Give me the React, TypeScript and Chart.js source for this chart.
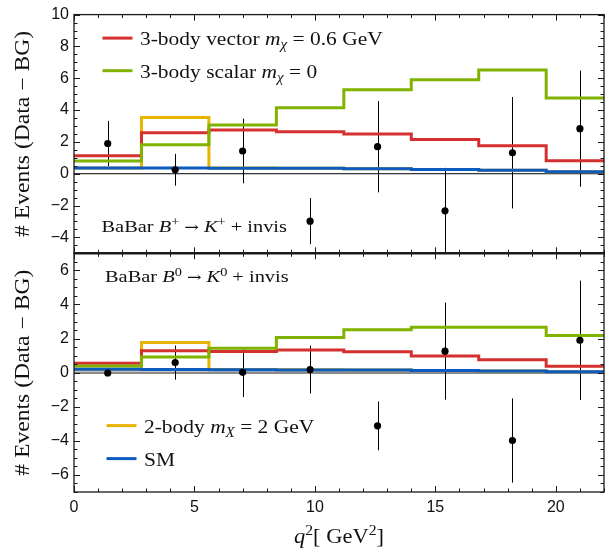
import React, { useEffect, useRef } from 'react';
import { Chart, registerables } from 'chart.js';

Chart.register(...registerables);

// ---------- data ----------
const BIN_EDGES = [0, 2.8, 5.6, 8.4, 11.2, 14.0, 16.8, 19.6, 22.4];
const BIN_CENTERS = [1.4, 4.2, 7.0, 9.8, 12.6, 15.4, 18.2, 21.0];
const X_TICKS = [0, 5, 10, 15, 20];
const TOP_Y_TICKS = [-4, -2, 0, 2, 4, 6, 8, 10];
const BOTTOM_Y_TICKS = [-6, -4, -2, 0, 2, 4, 6];

// B+ -> K+ + invis (top panel)
const TOP_DATA = [1.9, 0.25, 1.43, -2.98, 1.7, -2.33, 1.32, 2.83];
const TOP_ERR = [1.42, 1.0, 2.03, 1.45, 2.87, 2.7, 3.5, 3.65];
const TOP_VECTOR = [1.13, 2.58, 2.75, 2.64, 2.5, 2.15, 1.76, 0.82];
const TOP_SCALAR = [0.8, 1.82, 3.07, 4.15, 5.28, 5.9, 6.52, 4.76];
const TOP_TWOBODY = [0.36, 3.54, 0.36, 0.34, 0.32, 0.27, 0.22, 0.12];
const TOP_SM = [0.36, 0.36, 0.35, 0.34, 0.32, 0.27, 0.22, 0.12];

// B0 -> K0 + invis (bottom panel)
const BOT_DATA = [-0.02, 0.59, 0.02, 0.18, -3.12, 1.26, -3.98, 1.9];
const BOT_ERR = [0, 1.0, 1.45, 1.4, 1.43, 2.85, 2.47, 3.5];
const BOT_VECTOR = [0.55, 1.28, 1.24, 1.33, 1.22, 0.98, 0.75, 0.38];
const BOT_SCALAR = [0.39, 0.92, 1.43, 2.06, 2.51, 2.67, 2.67, 2.18];
const BOT_TWOBODY = [0.2, 1.77, 0.18, 0.17, 0.15, 0.12, 0.09, 0.05];
const BOT_SM = [0.2, 0.18, 0.17, 0.16, 0.15, 0.12, 0.09, 0.05];

// ---------- styles ----------
const RED = '#d3302f';
const GREEN = '#80b300';
const YELLOW = '#e8b400';
const BLUE = '#0b5bc0';
const INK = '#1a1a1a';
const SERIF = '"Liberation Serif", "DejaVu Serif", serif';
const SANS = '"Liberation Sans", Arial, sans-serif';
const SYM = '"DejaVu Serif", serif';

type Seg = { t: string; it?: boolean; sup?: boolean; sub?: boolean; sym?: boolean };

const LEGEND_TOP: { color: string; segs: Seg[] }[] = [
  { color: RED, segs: [{ t: '3-body vector ' }, { t: 'm', it: true }, { t: 'χ', it: true, sub: true }, { t: ' = 0.6 GeV' }] },
  { color: GREEN, segs: [{ t: '3-body scalar ' }, { t: 'm', it: true }, { t: 'χ', it: true, sub: true }, { t: ' = 0' }] },
];
const LEGEND_BOTTOM: { color: string; segs: Seg[] }[] = [
  { color: YELLOW, segs: [{ t: '2-body ' }, { t: 'm', it: true }, { t: 'X', it: true, sub: true }, { t: ' = 2 GeV' }] },
  { color: BLUE, segs: [{ t: 'SM' }] },
];
const LABEL_TOP: Seg[] = [{ t: 'BaBar ' }, { t: 'B', it: true }, { t: '+', sup: true }, { t: ' ' }, { t: '→', sym: true }, { t: ' ' }, { t: 'K', it: true }, { t: '+', sup: true }, { t: ' + invis' }];
const LABEL_BOTTOM: Seg[] = [{ t: 'BaBar ' }, { t: 'B', it: true }, { t: '0', sup: true }, { t: ' ' }, { t: '→', sym: true }, { t: ' ' }, { t: 'K', it: true }, { t: '0', sup: true }, { t: ' + invis' }];
const Y_TITLE: Seg[] = [{ t: '# Events (Data − BG)' }];
const X_TITLE: Seg[] = [{ t: 'q', it: true }, { t: '2', sup: true }, { t: '[ GeV' }, { t: '2', sup: true }, { t: ']' }];

function segFont(s: Seg, size: number) {
  const sz = s.sup || s.sub ? size * 0.7 : s.sym ? size * 0.85 : size;
  return `${s.it ? 'italic ' : ''}${sz}px ${s.sym ? SYM : SERIF}`;
}
function measureRich(ctx: CanvasRenderingContext2D, segs: Seg[], size: number) {
  let w = 0;
  for (const s of segs) {
    ctx.font = segFont(s, size);
    w += ctx.measureText(s.t).width;
  }
  return w;
}
function drawRich(
  ctx: CanvasRenderingContext2D,
  segs: Seg[],
  x: number,
  y: number,
  size: number,
  stretch = 1,
  align: 'left' | 'center' = 'left'
) {
  const w = measureRich(ctx, segs, size) * stretch;
  ctx.save();
  ctx.translate(align === 'center' ? x - w / 2 : x, y);
  ctx.scale(stretch, 1);
  ctx.textAlign = 'left';
  ctx.textBaseline = 'alphabetic';
  let cx = 0;
  for (const s of segs) {
    ctx.font = segFont(s, size);
    const dy = s.sup ? -size * 0.4 : s.sub ? size * 0.2 : 0;
    ctx.fillText(s.t, cx, dy);
    cx += ctx.measureText(s.t).width;
  }
  ctx.restore();
}

const stepData = (vals: number[]) =>
  vals.map((v, i) => ({ x: BIN_EDGES[i], y: v })).concat([{ x: BIN_EDGES[vals.length], y: vals[vals.length - 1] }]);
const pointData = (vals: number[]) => vals.map((v, i) => ({ x: BIN_CENTERS[i], y: v }));

const stepSet = (vals: number[], color: string, axis: string) => ({
  data: stepData(vals),
  borderColor: color,
  borderWidth: 3,
  pointRadius: 0,
  stepped: true as const,
  fill: false,
  yAxisID: axis,
});
const pointSet = (vals: number[], axis: string) => ({
  data: pointData(vals),
  showLine: false,
  pointRadius: 3.6,
  pointBackgroundColor: '#000',
  pointBorderWidth: 0,
  borderColor: '#000',
  yAxisID: axis,
});

const fmt = (v: any) => (Number(v) < 0 ? '\u2212' + Math.abs(Number(v)) : String(v));

const overlay = {
  id: 'overlay',
  beforeDatasetsDraw(chart: any) {
    const ctx: CanvasRenderingContext2D = chart.ctx;
    const xs = chart.scales.x;
    const panels = [
      { y: chart.scales.yTop, data: TOP_DATA, err: TOP_ERR, zero: { w: 1, c: '#000' } },
      { y: chart.scales.yBottom, data: BOT_DATA, err: BOT_ERR, zero: { w: 2.5, c: '#8a8a8a' } },
    ];
    ctx.save();
    for (const p of panels) {
      ctx.save();
      ctx.beginPath();
      ctx.rect(xs.left, p.y.top, xs.right - xs.left, p.y.bottom - p.y.top);
      ctx.clip();
      ctx.strokeStyle = p.zero.c;
      ctx.lineWidth = p.zero.w;
      const y0 = p.y.getPixelForValue(0);
      ctx.beginPath();
      ctx.moveTo(xs.left, y0);
      ctx.lineTo(xs.right, y0);
      ctx.stroke();
      ctx.strokeStyle = '#000';
      ctx.lineWidth = 1;
      p.data.forEach((v, i) => {
        if (!p.err[i]) return;
        const px = Math.round(xs.getPixelForValue(BIN_CENTERS[i])) + 0.5;
        ctx.beginPath();
        ctx.moveTo(px, p.y.getPixelForValue(v - p.err[i]));
        ctx.lineTo(px, p.y.getPixelForValue(v + p.err[i]));
        ctx.stroke();
      });
      ctx.restore();
    }
    ctx.restore();
  },
  afterDraw(chart: any) {
    const ctx: CanvasRenderingContext2D = chart.ctx;
    const xs = chart.scales.x;
    const yt = chart.scales.yTop;
    const yb = chart.scales.yBottom;
    ctx.save();
    ctx.strokeStyle = INK;
    for (const ys of [yt, yb]) {
      ctx.lineWidth = 1.3;
      ctx.strokeRect(xs.left, ys.top, xs.right - xs.left, ys.bottom - ys.top);
      ctx.lineWidth = 1;
      ctx.beginPath();
      for (let v = Math.ceil(xs.min); v <= xs.max; v += 1) {
        const px = Math.round(xs.getPixelForValue(v)) + 0.5;
        const len = v % 5 === 0 ? 6 : 3.5;
        ctx.moveTo(px, ys.bottom);
        ctx.lineTo(px, ys.bottom - len);
        ctx.moveTo(px, ys.top);
        ctx.lineTo(px, ys.top + len);
      }
      for (let v = ys.min; v <= ys.max + 1e-9; v += 0.5) {
        const py = Math.round(ys.getPixelForValue(v)) + 0.5;
        const len = Math.abs(v % 2) < 1e-9 ? 6 : 3.5;
        ctx.moveTo(xs.left, py);
        ctx.lineTo(xs.left + len, py);
        ctx.moveTo(xs.right, py);
        ctx.lineTo(xs.right - len, py);
      }
      ctx.stroke();
    }
    ctx.lineWidth = 2.6;
    ctx.beginPath();
    ctx.moveTo(xs.left, yt.bottom);
    ctx.lineTo(xs.right, yt.bottom);
    ctx.stroke();

    const L = xs.left;
    const legend = (items: { color: string; segs: Seg[] }[], x0: number, y0: number, gap: number) => {
      items.forEach((it, i) => {
        const y = y0 + i * gap;
        ctx.strokeStyle = it.color;
        ctx.lineWidth = 3;
        ctx.beginPath();
        ctx.moveTo(x0, y);
        ctx.lineTo(x0 + 30, y);
        ctx.stroke();
        ctx.fillStyle = '#111';
        drawRich(ctx, it.segs, x0 + 37.5, y + 7, 19.5, 1.1);
      });
    };
    legend(LEGEND_TOP, L + 28.5, yt.top + 23.5, 32.6);
    legend(LEGEND_BOTTOM, L + 32.5, yb.top + 172.3, 33);

    ctx.fillStyle = '#111';
    drawRich(ctx, LABEL_TOP, L + 27.5, yt.bottom - 21, 17, 1.2);
    drawRich(ctx, LABEL_BOTTOM, L + 31, yb.top + 29, 17, 1.2);

    for (const ys of [yt, yb]) {
      ctx.save();
      ctx.translate(29, (ys.top + ys.bottom) / 2);
      ctx.rotate(-Math.PI / 2);
      drawRich(ctx, Y_TITLE, 0, 0, 20, 1.18, 'center');
      ctx.restore();
    }
    drawRich(ctx, X_TITLE, (xs.left + xs.right) / 2, 543, 21, 1.07, 'center');
    ctx.restore();
  },
};

const yScale = (min: number, max: number, ticks: number[], weight: number) => ({
  type: 'linear' as const,
  position: 'left' as const,
  stack: 'panels',
  stackWeight: 1,
  weight,
  min,
  max,
  afterBuildTicks: (s: any) => {
    s.ticks = ticks.map((v) => ({ value: v }));
  },
  afterFit: (s: any) => {
    s.width = 74;
  },
  grid: { display: false, drawTicks: false },
  border: { display: false },
  ticks: { font: { family: SANS, size: 16 }, color: '#111', padding: 5, autoSkip: false, callback: fmt },
});

export default function App() {
  const ref = useRef<HTMLCanvasElement>(null);
  useEffect(() => {
    if (!ref.current) return;
    const chart = new Chart(ref.current, {
      type: 'line',
      data: {
        datasets: [
          pointSet(TOP_DATA, 'yTop'),
          stepSet(TOP_SM, BLUE, 'yTop'),
          stepSet(TOP_SCALAR, GREEN, 'yTop'),
          stepSet(TOP_VECTOR, RED, 'yTop'),
          stepSet(TOP_TWOBODY, YELLOW, 'yTop'),
          pointSet(BOT_DATA, 'yBottom'),
          stepSet(BOT_SM, BLUE, 'yBottom'),
          stepSet(BOT_SCALAR, GREEN, 'yBottom'),
          stepSet(BOT_VECTOR, RED, 'yBottom'),
          stepSet(BOT_TWOBODY, YELLOW, 'yBottom'),
        ] as any,
      },
      options: {
        animation: false,
        responsive: false,
        devicePixelRatio: 1,
        layout: { padding: { top: 13, right: 3, left: 0, bottom: 0 } },
        plugins: { legend: { display: false }, tooltip: { enabled: false } },
        scales: {
          x: {
            type: 'linear',
            min: 0,
            max: 22,
            afterBuildTicks: (s: any) => {
              s.ticks = X_TICKS.map((v) => ({ value: v }));
            },
            afterFit: (s: any) => {
              s.height = 60;
            },
            grid: { display: false, drawTicks: false },
            border: { display: false },
            ticks: { font: { family: SANS, size: 16 }, color: '#111', padding: 6, maxRotation: 0, autoSkip: false },
          },
          yBottom: yScale(-7, 7, BOTTOM_Y_TICKS, 1),
          yTop: yScale(-5, 10, TOP_Y_TICKS, 2),
        } as any,
      },
      plugins: [overlay],
    });
    return () => chart.destroy();
  }, []);
  return (
    <div style={{ position: 'fixed', left: 0, top: 0, width: 608, height: 552, background: '#fff' }}>
      <canvas ref={ref} width={608} height={552} style={{ display: 'block', width: 608, height: 552 }} />
    </div>
  );
}
